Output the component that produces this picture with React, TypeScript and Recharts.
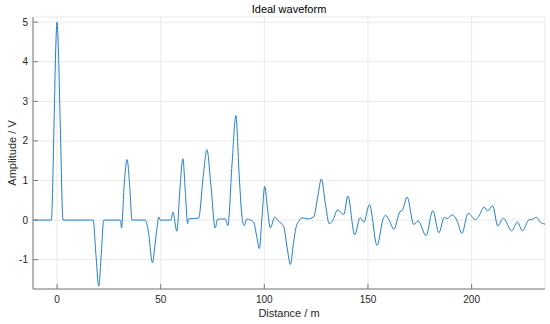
import React from 'react';
import { LineChart, Line, XAxis, YAxis, CartesianGrid } from 'recharts';

// waveform samples (distance in m, amplitude in V)
const distance = [
  -11.6, -2.75, -1.5, -0.6, 0, 0.6, 1.6, 2.9, 17.4, 18.8, 20.1, 21.3, 22.5,
  30.6, 31.1, 32.4, 33.8, 35.0, 36.2, 42.5, 44.1, 46, 47.3, 48.2, 49.1, 49.8,
  54.9, 55.9, 57.8, 59.3, 60.7, 61.9, 63, 63.4, 68.3, 70.5, 72.3, 74.2, 76.3,
  77.4, 81.2, 82.4, 84.4, 86.3, 87.8, 89.2, 90.3, 91.5, 93.2, 94.8, 96.3, 97.6,
  98.9, 100.2, 101.5, 102.9, 105, 106.9, 109.3, 111, 112.6, 114, 115.5, 116.6,
  118.2, 120.6, 123.8, 125.8, 127.5, 129.5, 131.3, 133.2, 135.3, 138.3, 140.3,
  143.6, 146.2, 148, 150.7, 154.4, 157.3, 158.5, 160.1, 162.5, 165.4, 166.5,
  168.9, 172.1, 174.2, 178, 181.3, 184.2, 186.8, 188.2, 190.7, 193.1, 195.3,
  198.3, 201.9, 203.5, 206, 207.6, 210.2, 212.6, 215.3, 219.3, 222.1, 224.5,
  227.7, 229.2, 231.2, 233.3, 235.4,
];
const amplitude = [
  0, 0, 2.3, 4.4, 5.0, 4.4, 2.3, 0, 0, -0.9, -1.67, -0.9, 0,
  0, -0.2, 0.9, 1.53, 0.9, 0, 0, -0.3, -1.08, -0.6, -0.2, 0.08, 0,
  0, 0.2, -0.28, 0.8, 1.55, 0.7, -0.09, 0.03, 0.05, 1.1, 1.78, 0.9, -0.2,
  0.02, 0.03, -0.14, 1.4, 2.64, 1.2, 0.1, -0.14, 0.03, 0, -0.05, -0.4, -0.72,
  0.1, 0.85, 0.3, -0.2, 0.08, -0.03, -0.16, -0.7, -1.12, -0.6, -0.14, -0.03,
  0.06, 0.03, 0.08, 0.6, 1.04, 0.4, -0.09, 0.01, 0.26, 0.14, 0.61,
  -0.37, 0.06, -0.05, 0.39, -0.64, 0.03, 0.12, 0.01, -0.23, 0.21, 0.24,
  0.58, -0.11, -0.02, -0.39, 0.24, -0.32, 0.07, 0.04, 0.13, -0.03, -0.34,
  0.17, 0.01, 0.1, 0.33, 0.23, 0.36, -0.15, 0.05, -0.27, -0.05, -0.27,
  0.01, 0.02, 0.07, -0.06, -0.1,
];
const xTicks = [0, 50, 100, 150, 200];
const yTicks = [-1, 0, 1, 2, 3, 4, 5];

const data = distance.map((d, i) => ({ d, a: amplitude[i] }));

const W = 550;
const H = 324;
const FONT = '"Liberation Sans", Arial, Helvetica, sans-serif';
const AXIS = '#7a7a7a';
const TEXT = '#262626';

export default function App() {
  return (
    <div style={{ position: 'absolute', left: 0, top: 0, width: W, height: H, background: '#fff' }}>
      <LineChart
        width={W}
        height={H}
        data={data}
        margin={{ top: 17, right: 5, left: 3, bottom: 5 }}
      >
        <CartesianGrid stroke="#e9e9e9" strokeWidth={1} xAxisId="x" yAxisId="y" />
        <XAxis
          xAxisId="x"
          dataKey="d"
          type="number"
          domain={[-11.6, 235.4]}
          ticks={xTicks}
          allowDataOverflow
          height={30}
          axisLine={{ stroke: AXIS }}
          tickLine={{ stroke: AXIS }}
          tickSize={-5}
          tickMargin={12}
          tick={{ fill: TEXT, fontSize: 10, fontFamily: FONT }}
        />
        <XAxis
          xAxisId="top"
          orientation="top"
          type="number"
          domain={[-11.6, 235.4]}
          ticks={xTicks}
          allowDataOverflow
          height={0}
          axisLine={{ stroke: AXIS }}
          tickLine={{ stroke: AXIS }}
          tickSize={-5}
          tick={false}
        />
        <YAxis
          yAxisId="y"
          type="number"
          domain={[-1.74, 5.13]}
          ticks={yTicks}
          allowDataOverflow
          width={30}
          axisLine={{ stroke: AXIS }}
          tickLine={{ stroke: AXIS }}
          tickSize={-5}
          tickMargin={10}
          tick={{ fill: TEXT, fontSize: 10, fontFamily: FONT }}
        />
        <YAxis
          yAxisId="right"
          orientation="right"
          type="number"
          domain={[-1.74, 5.13]}
          ticks={yTicks}
          allowDataOverflow
          width={0}
          axisLine={{ stroke: AXIS }}
          tickLine={{ stroke: AXIS }}
          tickSize={-5}
          tick={false}
        />
        <Line
          xAxisId="x"
          yAxisId="y"
          type="monotone"
          dataKey="a"
          stroke="#1f7fcc"
          strokeWidth={1}
          dot={false}
          isAnimationActive={false}
        />
      </LineChart>
      <svg
        width={W}
        height={H}
        style={{ position: 'absolute', left: 0, top: 0, pointerEvents: 'none' }}
        fontFamily={FONT}
        fontSize={11}
        fill="#000"
      >
        <text x={289} y={12.7} textAnchor="middle">Ideal waveform</text>
        <text x={289} y={317} textAnchor="middle" fill={TEXT}>Distance / m</text>
        <text transform="translate(15.5,153) rotate(-90)" textAnchor="middle" fill={TEXT}>
          Amplitude / V
        </text>
      </svg>
    </div>
  );
}
